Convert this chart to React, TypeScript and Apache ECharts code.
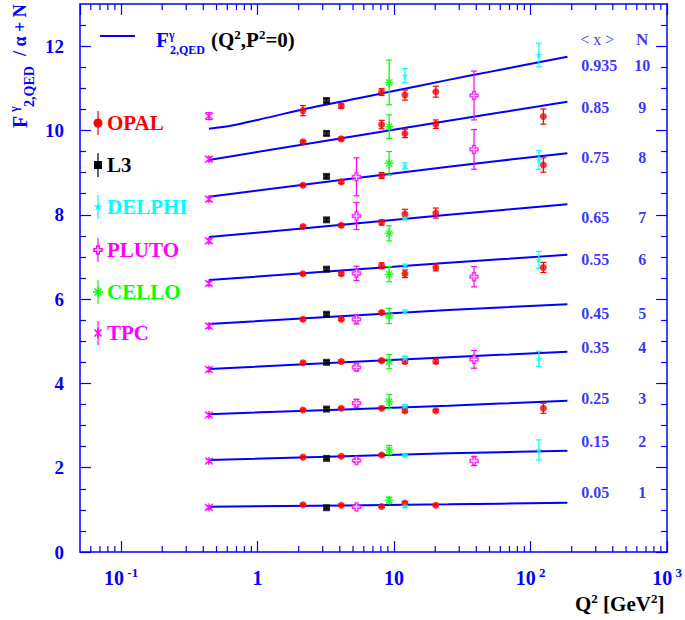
import React, { useEffect, useRef } from 'react';
import * as echarts from 'echarts';

const BLUE = '#0000ff';
const FONT = '"Liberation Serif", "Times New Roman", serif';

// Theory curves F2,QED(Q2,P2=0)/alpha + N : [Q2, value]
const curveN10 = [[0.44, 10.04], [0.65, 10.12], [1, 10.25], [2.1, 10.49], [5, 10.74], [9.1, 10.91], [25, 11.2], [50, 11.39], [186, 11.75]];
const curveN9 = [[0.44, 9.3], [25, 10.23], [186, 10.68]];
const curveN8 = [[0.44, 8.43], [25, 9.14], [186, 9.46]];
const curveN7 = [[0.44, 7.47], [25, 8.0], [186, 8.25]];
const curveN6 = [[0.44, 6.45], [25, 6.86], [186, 7.05]];
const curveN5 = [[0.44, 5.41], [25, 5.74], [186, 5.88]];
const curveN4 = [[0.44, 4.34], [25, 4.62], [186, 4.75]];
const curveN3 = [[0.44, 3.27], [25, 3.47], [186, 3.59]];
const curveN2 = [[0.44, 2.18], [25, 2.34], [186, 2.4]];
const curveN1 = [[0.44, 1.075], [25, 1.13], [186, 1.17]];
const curves = [curveN10, curveN9, curveN8, curveN7, curveN6, curveN5, curveN4, curveN3, curveN2, curveN1];

// Measurements: [Q2, value, error]
const opal = [
  [2.15, 10.47, 0.12], [4.1, 10.58, 0.05], [8.1, 10.91, 0.08], [12, 10.84, 0.12], [20.2, 10.92, 0.13],
  [2.15, 9.73, 0.03], [4.1, 9.8, 0.04], [8.1, 10.14, 0.1], [12, 9.93, 0.1], [20.2, 10.15, 0.1], [124, 10.33, 0.18],
  [2.15, 8.7, 0.03], [4.1, 8.78, 0.04], [8.1, 8.93, 0.07], [124, 9.18, 0.17],
  [2.15, 7.72, 0.03], [4.1, 7.75, 0.04], [8.1, 7.82, 0.06], [12, 8.02, 0.11], [20.2, 8.04, 0.12],
  [2.15, 6.6, 0.03], [4.1, 6.6, 0.04], [8.1, 6.79, 0.07], [12, 6.6, 0.09], [20.2, 6.75, 0.08], [124, 6.75, 0.12],
  [2.15, 5.52, 0.03], [4.1, 5.52, 0.03], [8.1, 5.68, 0.04],
  [2.15, 4.49, 0.03], [4.1, 4.52, 0.03], [8.1, 4.54, 0.04], [12, 4.52, 0.05], [20.2, 4.52, 0.05],
  [2.15, 3.37, 0.02], [4.1, 3.41, 0.02], [8.1, 3.41, 0.03], [12, 3.35, 0.04], [20.2, 3.35, 0.03], [124, 3.41, 0.12],
  [2.15, 2.25, 0.02], [4.1, 2.27, 0.02], [8.1, 2.3, 0.03],
  [2.15, 1.12, 0.02], [4.1, 1.11, 0.02], [8.1, 1.08, 0.02], [12, 1.16, 0.03], [20.2, 1.11, 0.02],
];
const l3 = [
  [3.2, 10.71, 0.05], [3.2, 9.93, 0.05], [3.2, 8.91, 0.04], [3.2, 7.88, 0.04], [3.2, 6.71, 0.04],
  [3.2, 5.64, 0.04], [3.2, 4.5, 0.04], [3.2, 3.39, 0.04], [3.2, 2.22, 0.03], [3.2, 1.05, 0.03],
];
const delphi = [
  [12, 11.3, 0.17], [12, 9.16, 0.07], [12, 7.92, 0.04], [12, 6.79, 0.04], [12, 5.7, 0.04],
  [12, 4.6, 0.04], [12, 3.46, 0.04], [12, 2.29, 0.03], [12, 1.09, 0.03],
  [115, 11.79, 0.28], [115, 9.3, 0.22], [115, 6.93, 0.2], [115, 4.58, 0.18], [115, 2.42, 0.24],
];
const pluto = [
  [5.3, 8.9, 0.45], [5.3, 7.97, 0.32], [5.3, 6.61, 0.17], [5.3, 5.52, 0.11], [5.3, 4.38, 0.08],
  [5.3, 3.53, 0.09], [5.3, 2.17, 0.04], [5.3, 1.07, 0.03],
  [38.5, 10.83, 0.58], [38.5, 9.55, 0.47], [38.5, 6.53, 0.24], [38.5, 4.57, 0.21], [38.5, 2.16, 0.11],
];
const cello = [
  [9.2, 11.14, 0.53], [9.2, 10.09, 0.28], [9.2, 9.22, 0.28], [9.2, 7.56, 0.18], [9.2, 6.59, 0.18],
  [9.2, 5.6, 0.18], [9.2, 4.52, 0.17], [9.2, 3.57, 0.17], [9.2, 2.42, 0.11], [9.2, 1.23, 0.07],
];
const tpc = [
  [0.44, 10.34, 0.08], [0.44, 9.32, 0.05], [0.44, 8.37, 0.05], [0.44, 7.38, 0.05], [0.44, 6.37, 0.05],
  [0.44, 5.36, 0.05], [0.44, 4.33, 0.05], [0.44, 3.25, 0.04], [0.44, 2.16, 0.04], [0.44, 1.06, 0.03],
];

// Right-hand labels
const meanX = ['0.935', '0.85', '0.75', '0.65', '0.55', '0.45', '0.35', '0.25', '0.15', '0.05'];
const offsetN = ['10', '9', '8', '7', '6', '5', '4', '3', '2', '1'];
const labelY = [11.54, 10.54, 9.35, 7.93, 6.93, 5.65, 4.85, 3.65, 2.63, 1.41];
const meanXPosQ = 235;
const offsetNPosQ = 656;
const headerPosQ = 308;
const headerY = 12.15;

// Axis ticks
const yMajor = [0, 2, 4, 6, 8, 10, 12];
const yMinor = [0.5, 1, 1.5, 2.5, 3, 3.5, 4.5, 5, 5.5, 6.5, 7, 7.5, 8.5, 9, 9.5, 10.5, 11, 11.5, 12.5];
const xMinorQ = [
  0.06, 0.07, 0.08, 0.09,
  0.2, 0.3, 0.4, 0.5, 0.6, 0.7, 0.8, 0.9,
  2, 3, 4, 5, 6, 7, 8, 9,
  20, 30, 40, 50, 60, 70, 80, 90,
  200, 300, 400, 500, 600, 700, 800, 900,
];
const X_MIN = 0.05;
const X_MAX = 1000;

const experiments = [
  { name: 'OPAL', data: opal, color: '#ff0000' },
  { name: 'L3', data: l3, color: '#000000' },
  { name: 'DELPHI', data: delphi, color: '#00ffff' },
  { name: 'PLUTO', data: pluto, color: '#ff00ff' },
  { name: 'CELLO', data: cello, color: '#00ff00' },
  { name: 'TPC', data: tpc, color: '#ff00ff' },
];

const symbols: Record<string, any> = {
  OPAL: { symbol: 'circle', size: 7, fill: true },
  L3: { symbol: 'rect', size: 7, fill: true },
  DELPHI: {
    symbol: 'path://M0,-5 L1.18,-1.62 L4.76,-1.55 L1.9,0.62 L2.94,4.05 L0,2 L-2.94,4.05 L-1.9,0.62 L-4.76,-1.55 L-1.18,-1.62 Z',
    size: 7, fill: true,
  },
  PLUTO: {
    symbol: 'path://M-1,-3 L1,-3 L1,-1 L3,-1 L3,1 L1,1 L1,3 L-1,3 L-1,1 L-3,1 L-3,-1 L-1,-1 Z',
    size: 8, fill: false,
  },
  CELLO: {
    symbol: 'path://M0,-4 L0,4 M-4,0 L4,0 M-2.8,-2.8 L2.8,2.8 M-2.8,2.8 L2.8,-2.8',
    size: 9, fill: false,
  },
  TPC: {
    symbol: 'path://M0,-4 L0,4 M-3.5,-3.5 L3.5,3.5 M-3.5,3.5 L3.5,-3.5',
    size: 8, fill: false,
  },
};

function errorBarSeries(name: string, data: number[][], color: string) {
  return {
    type: 'custom',
    name: name + ' err',
    xAxisIndex: 0,
    yAxisIndex: 0,
    z: 3,
    silent: true,
    data,
    encode: { x: 0, y: 1 },
    renderItem: (_params: any, api: any) => {
      const x = api.value(0);
      const y = api.value(1);
      const e = api.value(2);
      const p1 = api.coord([x, y + e]);
      const p2 = api.coord([x, y - e]);
      const c = 3;
      const style = { stroke: color, lineWidth: 1.2 };
      return {
        type: 'group',
        children: [
          { type: 'line', shape: { x1: p1[0], y1: p1[1], x2: p2[0], y2: p2[1] }, style },
          { type: 'line', shape: { x1: p1[0] - c, y1: p1[1], x2: p1[0] + c, y2: p1[1] }, style },
          { type: 'line', shape: { x1: p2[0] - c, y1: p2[1], x2: p2[0] + c, y2: p2[1] }, style },
        ],
      };
    },
  };
}

function markerSeries(name: string, data: number[][], color: string) {
  const s = symbols[name];
  return {
    type: 'scatter',
    name,
    xAxisIndex: 0,
    yAxisIndex: 0,
    z: 4,
    silent: true,
    data: data.map((d) => [d[0], d[1]]),
    symbol: s.symbol,
    symbolSize: s.size,
    itemStyle: s.fill
      ? { color }
      : { color: name === 'PLUTO' ? '#ffffff' : 'rgba(0,0,0,0)', borderColor: color, borderWidth: 1.5 },
  };
}

function starPoints(cx: number, cy: number, r: number) {
  const pts: number[][] = [];
  for (let i = 0; i < 10; i++) {
    const a = -Math.PI / 2 + (i * Math.PI) / 5;
    const rr = i % 2 === 0 ? r : r * 0.4;
    pts.push([cx + rr * Math.cos(a), cy + rr * Math.sin(a)]);
  }
  return pts;
}

function asterisk(cx: number, cy: number, r: number, angles: number[], color: string) {
  return angles.map((deg) => {
    const a = (deg * Math.PI) / 180;
    return {
      type: 'line',
      shape: { x1: cx - r * Math.cos(a), y1: cy - r * Math.sin(a), x2: cx + r * Math.cos(a), y2: cy + r * Math.sin(a) },
      style: { stroke: color, lineWidth: 1.5 },
    };
  });
}

function legendGraphics() {
  const rowsY = [123, 165, 207, 250, 292, 333];
  const mx = 98;
  const out: any[] = [];
  experiments.forEach((ex, i) => {
    const y = rowsY[i];
    const c = ex.color;
    out.push({ type: 'line', shape: { x1: mx, y1: y - 12, x2: mx, y2: y + 12 }, style: { stroke: c, lineWidth: 1.2 } });
    if (ex.name === 'OPAL') out.push({ type: 'circle', shape: { cx: mx, cy: y, r: 4.5 }, style: { fill: c } });
    if (ex.name === 'L3') out.push({ type: 'rect', shape: { x: mx - 4, y: y - 4, width: 8, height: 8 }, style: { fill: c } });
    if (ex.name === 'DELPHI') out.push({ type: 'polygon', shape: { points: starPoints(mx, y, 4.5) }, style: { fill: c } });
    if (ex.name === 'PLUTO')
      out.push({
        type: 'polygon',
        shape: { points: [[-1.3, -4], [1.3, -4], [1.3, -1.3], [4, -1.3], [4, 1.3], [1.3, 1.3], [1.3, 4], [-1.3, 4], [-1.3, 1.3], [-4, 1.3], [-4, -1.3], [-1.3, -1.3]].map((p) => [mx + p[0], y + p[1]]) },
        style: { fill: '#ffffff', stroke: c, lineWidth: 1.5 },
      });
    if (ex.name === 'CELLO') out.push(...asterisk(mx, y, 5, [0, 90, 45, 135], c));
    if (ex.name === 'TPC') out.push(...asterisk(mx, y, 5, [90, 45, 135], c));
    out.push({
      type: 'text',
      x: 107,
      y,
      style: { text: ex.name, fill: c, font: `bold 21px ${FONT}`, verticalAlign: 'middle', align: 'left' },
    });
  });
  return out;
}

const supRich = {
  b: { fontSize: 21, fontWeight: 'bold', fontFamily: FONT, color: BLUE, lineHeight: 24 },
  s: { fontSize: 13, fontWeight: 'bold', fontFamily: FONT, color: BLUE, verticalAlign: 'top', lineHeight: 14 },
};
const axisRich = {
  b: { fontSize: 20, fontWeight: 'bold', fontFamily: FONT, color: BLUE, lineHeight: 24 },
  s: { fontSize: 13, fontWeight: 'bold', fontFamily: FONT, color: BLUE, verticalAlign: 'top', lineHeight: 14 },
};

function titleGraphics() {
  const out: any[] = [];
  // in-plot legend for the theory curve
  out.push({ type: 'line', shape: { x1: 100, y1: 36, x2: 135, y2: 36 }, style: { stroke: BLUE, lineWidth: 2 } });
  out.push({ type: 'text', x: 156, y: 40, style: { text: 'F', fill: BLUE, font: `bold 21px ${FONT}`, verticalAlign: 'middle' } });
  out.push({ type: 'text', x: 169, y: 35, style: { text: 'γ', fill: BLUE, font: `bold 12px ${FONT}`, verticalAlign: 'middle' } });
  out.push({ type: 'text', x: 170, y: 50, style: { text: '2,QED', fill: BLUE, font: `bold 12px ${FONT}`, verticalAlign: 'middle' } });
  out.push({
    type: 'text', x: 211, y: 40,
    style: { text: '{b|(Q}{s|2}{b|,P}{s|2}{b|=0)}', rich: supRich, verticalAlign: 'middle' },
  });
  // y-axis title (rotated)
  out.push({
    type: 'group',
    x: 20,
    y: 128,
    rotation: Math.PI / 2,
    children: [
      { type: 'text', x: 0, y: 0, style: { text: 'F', fill: BLUE, font: `bold 20px ${FONT}`, verticalAlign: 'middle' } },
      { type: 'text', x: 16, y: -6, style: { text: 'γ', fill: BLUE, font: `bold 12px ${FONT}`, verticalAlign: 'middle' } },
      { type: 'text', x: 21, y: 9, style: { text: '2,QED', fill: BLUE, font: `bold 14px ${FONT}`, verticalAlign: 'middle' } },
      { type: 'text', x: 72, y: 0, style: { text: '/ α + N', fill: BLUE, font: `bold 18px ${FONT}`, verticalAlign: 'middle' } },
    ],
  });
  // x-axis title
  out.push({
    type: 'text', x: 575, y: 604,
    style: { text: '{b|Q}{s|2}{b| [GeV}{s|2}{b|]}', rich: supRich, verticalAlign: 'middle' },
  });
  return out;
}

function xLabel(v: number) {
  const e = Math.round(Math.log10(v));
  if (e === 0) return '{b|1}';
  if (e === 1) return '{b|10}';
  return '{b|10}{s| ' + e + '}';
}

export default function App() {
  const ref = useRef<HTMLDivElement>(null);
  useEffect(() => {
    document.body.style.margin = '0';
    if (!ref.current) return;
    const chart = echarts.init(ref.current, undefined, { renderer: 'svg' });
    const axisLineStyle = { color: BLUE, width: 1.5 };
    const tickStyle = { color: BLUE, width: 1.2 };

    const series: any[] = [];
    curves.forEach((c, i) => {
      series.push({
        type: 'line',
        name: 'curve' + i,
        xAxisIndex: 0,
        yAxisIndex: 0,
        data: c,
        showSymbol: false,
        symbol: 'none',
        smooth: 0.3,
        silent: true,
        z: 2,
        lineStyle: { color: BLUE, width: 2 },
      });
    });
    experiments.forEach((ex) => {
      series.push(errorBarSeries(ex.name, ex.data, ex.color));
      series.push(markerSeries(ex.name, ex.data, ex.color));
    });
    // log-scale minor ticks on bottom and top frame
    series.push({
      type: 'custom',
      name: 'xMinorTicks',
      xAxisIndex: 0,
      yAxisIndex: 0,
      silent: true,
      clip: false,
      z: 5,
      data: xMinorQ.map((q) => [q, 0]),
      encode: { x: 0, y: 1 },
      renderItem: (params: any, api: any) => {
        const cs = params.coordSys;
        const px = api.coord([api.value(0), 0])[0];
        const bottom = cs.y + cs.height;
        const top = cs.y;
        const style = { stroke: BLUE, lineWidth: 1.2 };
        return {
          type: 'group',
          children: [
            { type: 'line', shape: { x1: px, y1: bottom, x2: px, y2: bottom - 6 }, style },
            { type: 'line', shape: { x1: px, y1: top, x2: px, y2: top + 6 }, style },
          ],
        };
      },
    });
    const labelFont = { color: BLUE, fontFamily: FONT, fontWeight: 'bold' };
    series.push({
      type: 'scatter', name: 'meanX', xAxisIndex: 0, yAxisIndex: 0, symbolSize: 0, silent: true,
      data: labelY.map((y, i) => ({ value: [meanXPosQ, y], label: { formatter: meanX[i] } })),
      label: { show: true, position: 'right', distance: 0, fontSize: 16, ...labelFont },
    });
    series.push({
      type: 'scatter', name: 'offsetN', xAxisIndex: 0, yAxisIndex: 0, symbolSize: 0, silent: true,
      data: labelY.map((y, i) => ({ value: [offsetNPosQ, y], label: { formatter: offsetN[i] } })),
      label: { show: true, position: 'inside', fontSize: 16, ...labelFont },
    });
    series.push({
      type: 'scatter', name: 'headers', xAxisIndex: 0, yAxisIndex: 0, symbolSize: 0, silent: true,
      data: [
        { value: [headerPosQ, headerY], label: { formatter: '< x >', fontWeight: 'normal', fontSize: 16 } },
        { value: [offsetNPosQ, headerY], label: { formatter: 'N', fontSize: 17 } },
      ],
      label: { show: true, position: 'inside', ...labelFont },
    });

    const option: any = {
      animation: false,
      backgroundColor: '#ffffff',
      grid: { left: 80, right: 15, top: 4, bottom: 68, containLabel: false },
      xAxis: [
        {
          type: 'log', logBase: 10, min: X_MIN, max: X_MAX, position: 'bottom',
          axisLine: { onZero: false, lineStyle: axisLineStyle },
          axisTick: { inside: true, length: 11, lineStyle: tickStyle },
          axisLabel: { showMinLabel: false, formatter: xLabel, rich: axisRich, margin: 14 },
          splitLine: { show: false },
        },
        {
          type: 'log', logBase: 10, min: X_MIN, max: X_MAX, position: 'top',
          axisLine: { onZero: false, lineStyle: axisLineStyle },
          axisTick: { inside: true, length: 11, lineStyle: tickStyle },
          axisLabel: { show: false },
          splitLine: { show: false },
        },
      ],
      yAxis: [
        {
          type: 'value', min: 0, max: 13, position: 'left',
          axisLine: { show: true, onZero: false, lineStyle: axisLineStyle },
          axisTick: { show: true, inside: true, length: 11, lineStyle: tickStyle, customValues: yMajor },
          axisLabel: { customValues: yMajor, color: BLUE, fontFamily: FONT, fontWeight: 'bold', fontSize: 19, margin: 16 },
          splitLine: { show: false },
        },
        {
          type: 'value', min: 0, max: 13, position: 'left',
          axisLine: { show: false, onZero: false },
          axisTick: { show: true, inside: true, length: 6, lineStyle: tickStyle, customValues: yMinor },
          axisLabel: { show: false },
          splitLine: { show: false },
        },
        {
          type: 'value', min: 0, max: 13, position: 'right',
          axisLine: { show: true, onZero: false, lineStyle: axisLineStyle },
          axisTick: { show: true, inside: true, length: 11, lineStyle: tickStyle, customValues: yMajor },
          axisLabel: { show: false },
          splitLine: { show: false },
        },
        {
          type: 'value', min: 0, max: 13, position: 'right',
          axisLine: { show: false, onZero: false },
          axisTick: { show: true, inside: true, length: 6, lineStyle: tickStyle, customValues: yMinor },
          axisLabel: { show: false },
          splitLine: { show: false },
        },
      ],
      graphic: [...legendGraphics(), ...titleGraphics()],
      series,
    };
    chart.setOption(option);
    return () => chart.dispose();
  }, []);
  return <div ref={ref} style={{ width: 685, height: 620 }} />;
}
